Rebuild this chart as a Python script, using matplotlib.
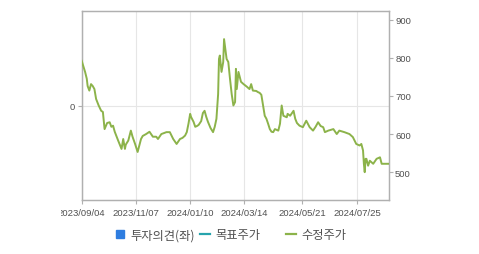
import matplotlib
matplotlib.use("Agg")
import matplotlib.pyplot as plt
from matplotlib.lines import Line2D
from matplotlib.transforms import Bbox
import pandas as pd

# ---- data ----
price_dates = [
    "2023-09-04", "2023-09-08", "2023-09-10", "2023-09-11", "2023-09-13", "2023-09-15",
    "2023-09-17", "2023-09-19", "2023-09-21", "2023-09-24", "2023-09-27", "2023-09-29",
    "2023-10-01", "2023-10-04", "2023-10-07", "2023-10-09", "2023-10-11", "2023-10-13",
    "2023-10-17", "2023-10-21", "2023-10-23", "2023-10-25", "2023-10-26", "2023-10-29",
    "2023-11-01", "2023-11-03", "2023-11-06", "2023-11-09", "2023-11-11", "2023-11-13",
    "2023-11-15", "2023-11-19", "2023-11-23", "2023-11-27", "2023-12-01", "2023-12-03",
    "2023-12-07", "2023-12-13", "2023-12-17", "2023-12-21", "2023-12-25", "2023-12-29",
    "2024-01-01", "2024-01-04", "2024-01-06", "2024-01-08", "2024-01-10", "2024-01-11",
    "2024-01-14", "2024-01-16", "2024-01-18", "2024-01-20", "2024-01-23", "2024-01-25",
    "2024-01-27", "2024-01-29", "2024-01-31", "2024-02-03", "2024-02-06", "2024-02-08",
    "2024-02-10", "2024-02-12", "2024-02-13", "2024-02-14", "2024-02-16", "2024-02-18",
    "2024-02-19", "2024-02-20", "2024-02-22", "2024-02-24", "2024-02-26", "2024-02-28",
    "2024-03-01", "2024-03-03", "2024-03-04", "2024-03-05", "2024-03-07", "2024-03-09",
    "2024-03-10", "2024-03-13", "2024-03-17", "2024-03-20", "2024-03-22", "2024-03-24",
    "2024-03-28", "2024-03-30", "2024-04-01", "2024-04-03", "2024-04-05", "2024-04-07",
    "2024-04-09", "2024-04-11", "2024-04-13", "2024-04-15", "2024-04-17", "2024-04-19",
    "2024-04-23", "2024-04-25", "2024-04-27", "2024-04-29", "2024-05-03", "2024-05-04",
    "2024-05-07", "2024-05-11", "2024-05-13", "2024-05-15", "2024-05-18", "2024-05-22",
    "2024-05-26", "2024-05-30", "2024-06-03", "2024-06-06", "2024-06-09", "2024-06-12",
    "2024-06-15", "2024-06-17", "2024-06-21", "2024-06-27", "2024-07-01", "2024-07-04",
    "2024-07-10", "2024-07-16", "2024-07-20", "2024-07-24", "2024-07-28", "2024-07-30",
    "2024-08-01", "2024-08-02", "2024-08-03", "2024-08-04", "2024-08-05", "2024-08-07",
    "2024-08-09", "2024-08-13", "2024-08-17", "2024-08-21", "2024-08-23", "2024-08-27",
    "2024-08-31",
]
price_values = [
    792, 763, 745, 726, 714, 731,
    726, 718, 692, 675, 661, 658,
    613, 629, 631, 619, 622, 606,
    583, 561, 587, 561, 572, 583,
    609, 593, 574, 553, 570, 587,
    595, 600, 606, 593, 593, 587,
    600, 605, 605, 587, 574, 587,
    590, 596, 605, 627, 653, 645,
    632, 619, 621, 624, 634, 655,
    661, 645, 632, 616, 605, 619,
    640, 705, 797, 806, 763, 789,
    849, 832, 797, 789, 745, 705,
    675, 684, 771, 718, 763, 745,
    737, 731, 724, 718, 731, 714,
    713, 710, 708, 703, 675, 648,
    640, 627, 613, 606, 605, 613,
    609, 627, 675, 648, 644, 653,
    648, 661, 640, 629, 622, 618,
    635, 618, 609, 619, 631, 621,
    618, 605, 609, 613, 600, 609,
    605, 600, 592, 574, 570, 574,
    557, 522, 500, 535, 535, 517,
    530, 522, 535, 539, 522, 522,
    522,
]
tick_dates = ["2023-09-04", "2023-11-07", "2024-01-10", "2024-03-14", "2024-05-21", "2024-07-25"]
tick_labels = ["2023/09/04", "2023/11/07", "2024/01/10", "2024/03/14", "2024/05/21", "2024/07/25"]
right_ticks = [500, 600, 700, 800, 900]
legend_labels = ["투자의견(좌)", "목표주가", "수정주가"]

# ---- style ----
GREEN = "#8cb34a"
TEAL = "#27a4ad"
BLUE = "#2e7de0"
SPINE = "#b0b0b0"
GRID = "#e6e6e6"
TXT = "#505050"
NUMFONT = "Liberation Sans"

W, H = 479, 255
fig = plt.figure(figsize=(W / 100, H / 100), dpi=100)
fig.patch.set_facecolor("white")

ax_l, ax_r_px, ax_b, ax_t = 81.7, 389.3, 201.0, 12.3
ax = fig.add_axes([ax_l / W, 1 - ax_b / H, (ax_r_px - ax_l) / W, (ax_b - ax_t) / H])
axr = ax.twinx()

x = pd.to_datetime(price_dates)
axr.plot(x, price_values, color=GREEN, lw=1.4, solid_joinstyle="round", zorder=3)

xmin = pd.Timestamp("2023-09-04")
xmax = pd.Timestamp("2024-09-01")
ax.set_xlim(xmin, xmax)
axr.set_xlim(xmin, xmax)
axr.set_ylim(427, 922)
ax.set_ylim(-1, 1)

ax.set_xticks(pd.to_datetime(tick_dates))
ax.set_xticklabels(tick_labels)
ax.set_yticks([0])
ax.set_yticklabels(["0"])
axr.set_yticks(right_ticks)

ax.grid(True, color=GRID, lw=0.8)
ax.set_axisbelow(True)
axr.grid(False)

for a in (ax, axr):
    for s in a.spines.values():
        s.set_color(SPINE)
        s.set_linewidth(0.9)
    a.tick_params(colors=SPINE, labelcolor=TXT, length=3, width=0.8, labelsize=6.8)
ax.tick_params(axis="x", pad=3)
ax.tick_params(axis="y", pad=2)
axr.tick_params(axis="y", pad=1.2)

for lab in ax.get_xticklabels() + ax.get_yticklabels() + axr.get_yticklabels():
    lab.set_fontfamily(NUMFONT)

fig.canvas.draw()
clip = Bbox.from_extents(61, 0, W, H)
for lab in ax.get_xticklabels():
    lab.set_clip_box(clip)
    lab.set_clip_on(True)

# ---- legend ----
legfont = {"family": ["Noto Sans CJK KR", "DejaVu Sans"], "size": 8.8}
handles = [
    Line2D([], [], marker="s", color=BLUE, markersize=5.4, linestyle="none"),
    Line2D([], [], color=TEAL, lw=1.6),
    Line2D([], [], color=GREEN, lw=1.6),
]
starts = [115, 200, 286]
for h, lab, sx in zip(handles, legend_labels, starts):
    fig.legend([h], [lab], loc="center left", bbox_to_anchor=(sx / W, 1 - 236 / H),
               frameon=False, prop=legfont, handlelength=0.85, handletextpad=0.4,
               borderpad=0, borderaxespad=0, labelcolor=TXT)

fig.savefig("out.png", dpi=100)
